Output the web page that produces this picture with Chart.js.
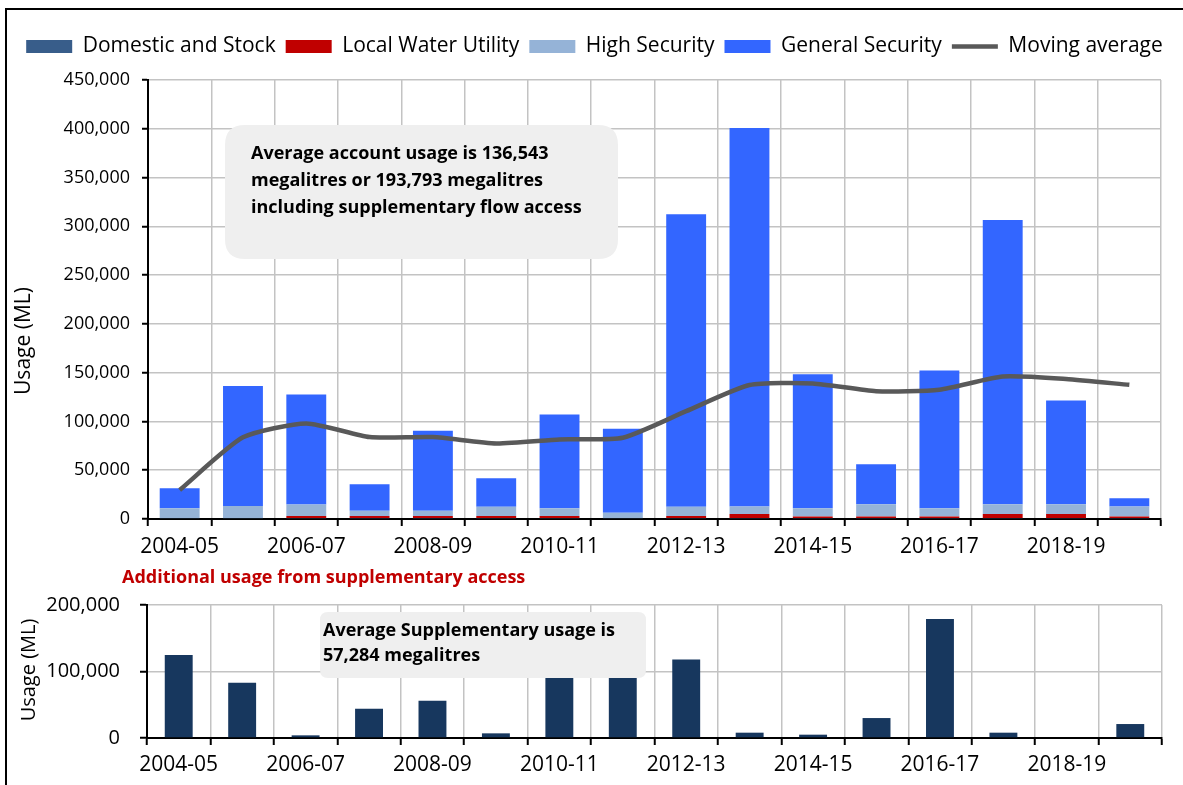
<!DOCTYPE html>
<html>
<head>
<meta charset="utf-8">
<script src="https://cdn.jsdelivr.net/npm/chart.js@4"></script>
<style>
  html, body { margin: 0; padding: 0; background: #fff; width: 1183px; height: 785px; overflow: hidden; }
  #frame { position: absolute; left: 5px; top: 8px; width: 1200px; height: 800px; border: 2px solid #000; box-sizing: border-box; }
  #topWrap { position: absolute; left: 0; top: 0; width: 1183px; height: 565px; }
  #botWrap { position: absolute; left: 0; top: 565px; width: 1183px; height: 220px; }
</style>
</head>
<body>
<div id="frame"></div>
<div id="topWrap"><canvas id="topChart" width="1183" height="565"></canvas></div>
<div id="botWrap"><canvas id="botChart" width="1183" height="220"></canvas></div>
<script>
// ---------------- DATA ----------------
const categories = ['2004-05','2005-06','2006-07','2007-08','2008-09','2009-10','2010-11','2011-12',
                    '2012-13','2013-14','2014-15','2015-16','2016-17','2017-18','2018-19','2019-20'];
const xTickLabels = ['2004-05','','2006-07','','2008-09','','2010-11','','2012-13','','2014-15','','2016-17','','2018-19',''];

const domesticStock     = [1000,1000,1000,1000,1000,1000,1000,1000,1000,1000,1000,1000,1000,1000,1000,1000];
const localWaterUtility = [0,0,2000,2000,2000,2000,2000,0,2000,4000,1500,1500,1500,4000,4000,1500];
const highSecurity      = [10000,12300,11900,5500,5500,9600,8000,5500,9600,7800,8600,12600,8600,10200,10200,10200];
const generalSecurity   = [20400,123000,112700,27000,82000,29100,96200,86100,299900,388000,137200,41000,141000,291400,106200,8600];
const movingAverage     = [29700,83700,98000,84000,84000,77500,81600,83300,110500,137300,139000,131000,132500,146000,143500,137500];

const supplementary     = [125000,83000,4000,44000,56000,7000,115000,113000,118000,8000,5000,30000,179000,8000,0,21000];

const topYMax = 450000, topYStep = 50000;
const botYMax = 200000, botYStep = 100000;

const topNote = ['Average account usage is 136,543', 'megalitres or 193,793 megalitres', 'including supplementary flow access'];
const botNote = ['Average Supplementary usage is', '57,284 megalitres'];
const botTitle = 'Additional usage from supplementary access';
const yTitle = 'Usage (ML)';

// ---------------- STYLE ----------------
const FONT = "'Open Sans', 'Liberation Sans', sans-serif";
const GRID = '#C3C3C3';

function roundRect(ctx, x, y, w, h, r) {
  ctx.beginPath();
  ctx.moveTo(x + r, y);
  ctx.lineTo(x + w - r, y);
  ctx.quadraticCurveTo(x + w, y, x + w, y + r);
  ctx.lineTo(x + w, y + h - r);
  ctx.quadraticCurveTo(x + w, y + h, x + w - r, y + h);
  ctx.lineTo(x + r, y + h);
  ctx.quadraticCurveTo(x, y + h, x, y + h - r);
  ctx.lineTo(x, y + r);
  ctx.quadraticCurveTo(x, y, x + r, y);
  ctx.closePath();
}

const overlayPlugin = {
  id: 'overlay',
  afterDraw(chart, args, opts) {
    const ctx = chart.ctx;
    (opts.boxes || []).forEach(b => {
      ctx.save();
      roundRect(ctx, b.x, b.y, b.w, b.h, b.r);
      ctx.fillStyle = b.fill;
      ctx.fill();
      ctx.fillStyle = b.color;
      ctx.font = b.font;
      ctx.textBaseline = 'middle';
      ctx.textAlign = 'left';
      b.lines.forEach((t, i) => ctx.fillText(t, b.tx, b.ty + i * b.lh));
      ctx.restore();
    });
    (opts.texts || []).forEach(t => {
      ctx.save();
      ctx.translate(t.x, t.y);
      ctx.rotate(t.rot || 0);
      ctx.fillStyle = t.color;
      ctx.font = t.font;
      ctx.textAlign = t.align || 'center';
      ctx.textBaseline = 'middle';
      ctx.fillText(t.text, 0, 0);
      ctx.restore();
    });
  }
};

// keeps the legend on one row, adds room below it and nudges it sideways
const legendSpacer = {
  id: 'legendSpacer',
  beforeInit(chart, args, opts) {
    if (!chart.legend) return;
    const origFit = chart.legend.fit;
    chart.legend.fit = function () {
      const mw = this.maxWidth;
      this.maxWidth = mw + 300;
      origFit.call(this);
      this.maxWidth = mw;
      this.width = Math.min(this.width, mw);
      this.height += opts.extra || 0;
    };
  },
  afterLayout(chart, args, opts) {
    const lg = chart.legend;
    if (!lg) return;
    const c = (lg.left + lg.right) / 2 + (opts.shift || 0);
    lg.left = c - 700;
    lg.right = c + 700;
  }
};

const fmt = v => Number(v).toLocaleString('en-US');

// ---------------- TOP CHART ----------------
const defaultLabels = Chart.defaults.plugins.legend.labels.generateLabels;

new Chart(document.getElementById('topChart'), {
  type: 'bar',
  data: {
    labels: categories,
    datasets: [
      { label: 'Domestic and Stock', data: domesticStock, backgroundColor: '#385D8A', stack: 's', order: 1 },
      { label: 'Local Water Utility', data: localWaterUtility, backgroundColor: '#C00000', stack: 's', order: 1 },
      { label: 'High Security', data: highSecurity, backgroundColor: '#95B3D7', stack: 's', order: 1 },
      { label: 'General Security', data: generalSecurity, backgroundColor: '#3366FF', stack: 's', order: 1 },
      { type: 'line', label: 'Moving average', data: movingAverage, borderColor: '#595959', backgroundColor: '#595959',
        borderWidth: 4.5, pointRadius: 0, tension: 0.2, stack: 'ma', order: 0 }
    ]
  },
  options: {
    responsive: false,
    animation: false,
    datasets: { bar: { categoryPercentage: 1, barPercentage: 0.63, borderWidth: 0 } },
    layout: { padding: { top: 26, left: 8, right: 22, bottom: 0 } },
    plugins: {
      tooltip: { enabled: false },
      legendSpacer: { extra: 13, shift: 10 },
      legend: {
        position: 'top',
        align: 'center',
        labels: {
          usePointStyle: true,
          pointStyleWidth: 46,
          boxHeight: 13,
          padding: 10,
          color: '#000',
          font: { family: FONT, size: 21 },
          sort: (a, b) => a.datasetIndex - b.datasetIndex,
          generateLabels: chart => defaultLabels(chart).map(l => Object.assign(l, {
            pointStyle: l.datasetIndex === 4 ? 'line' : 'rect'
          }))
        }
      },
      overlay: {
        boxes: [{ x: 225, y: 125, w: 393, h: 134, r: 20, fill: '#EFEFEF', color: '#000',
                  font: "bold 18px " + FONT, lines: topNote, tx: 251, ty: 154, lh: 27 }],
        texts: [{ text: yTitle, x: 24, y: 341, rot: -Math.PI / 2, color: '#000', font: "21px " + FONT }]
      }
    },
    scales: {
      x: {
        stacked: true,
        offset: true,
        grid: { offset: true, color: GRID, lineWidth: 1.5, tickColor: '#000', tickLength: 7, tickWidth: 2 },
        border: { color: '#000', width: 2 },
        ticks: { autoSkip: false, maxRotation: 0, color: '#000', padding: 8,
                 font: { family: FONT, size: 21 }, callback: (v, i) => xTickLabels[i] },
        afterFit: s => { s.height = 46; }
      },
      y: {
        stacked: true,
        min: 0, max: topYMax,
        grid: { color: GRID, lineWidth: 1.5, tickColor: '#000', tickLength: 6, tickWidth: 2 },
        border: { color: '#000', width: 2 },
        ticks: { stepSize: topYStep, color: '#000', padding: 12, font: { family: FONT, size: 18 }, callback: fmt },
        afterFit: s => { s.width = 140; }
      }
    }
  },
  plugins: [overlayPlugin, legendSpacer]
});

// ---------------- BOTTOM CHART ----------------
new Chart(document.getElementById('botChart'), {
  type: 'bar',
  data: {
    labels: categories,
    datasets: [
      { label: 'Supplementary', data: supplementary, backgroundColor: '#17375E',
        categoryPercentage: 1, barPercentage: 0.44, borderWidth: 0 }
    ]
  },
  options: {
    responsive: false,
    animation: false,
    layout: { padding: { top: 40, left: 8, right: 21, bottom: 0 } },
    plugins: {
      legend: { display: false },
      tooltip: { enabled: false },
      overlay: {
        boxes: [{ x: 320, y: 47, w: 326, h: 66, r: 8, fill: '#EFEFEF', color: '#000',
                  font: "bold 18px " + FONT, lines: botNote, tx: 323, ty: 66, lh: 25 }],
        texts: [
          { text: botTitle, x: 122, y: 13, align: 'left', color: '#C00000', font: "bold 18px " + FONT },
          { text: yTitle, x: 29, y: 105, rot: -Math.PI / 2, color: '#000', font: "20px " + FONT }
        ]
      }
    },
    scales: {
      x: {
        offset: true,
        grid: { offset: true, color: GRID, lineWidth: 1.5, tickColor: '#000', tickLength: 7, tickWidth: 2 },
        border: { color: '#000', width: 2 },
        ticks: { autoSkip: false, maxRotation: 0, color: '#000', padding: 7,
                 font: { family: FONT, size: 21 }, callback: (v, i) => xTickLabels[i] },
        afterFit: s => { s.height = 47; }
      },
      y: {
        min: 0, max: botYMax,
        grid: { color: GRID, lineWidth: 1.5, tickColor: '#000', tickLength: 7, tickWidth: 2 },
        border: { color: '#000', width: 2 },
        ticks: { stepSize: botYStep, color: '#000', padding: 20, font: { family: FONT, size: 20 }, callback: fmt },
        afterFit: s => { s.width = 139; }
      }
    }
  },
  plugins: [overlayPlugin]
});
</script>
</body>
</html>
